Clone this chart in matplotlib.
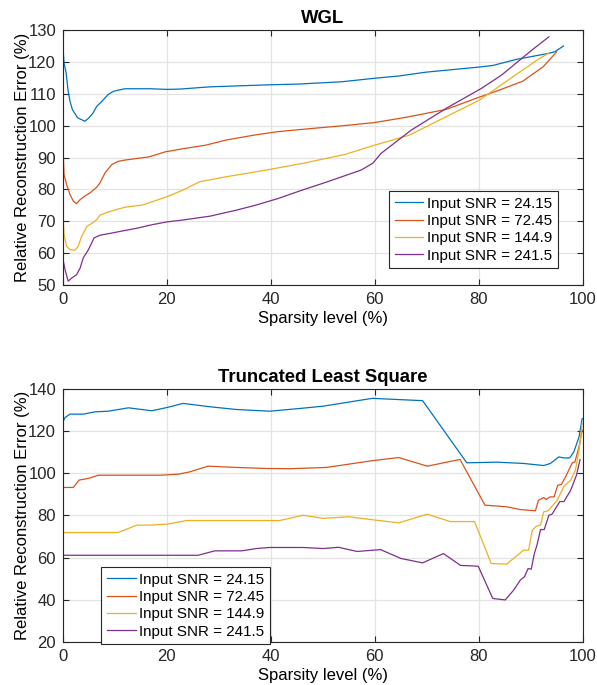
import numpy as np
import matplotlib.pyplot as plt

plt.rcParams['font.family'] = ['Liberation Sans', 'DejaVu Sans']

# -----------------------------
# Data
# -----------------------------
snr_labels = ["Input SNR = 24.15", "Input SNR = 72.45",
              "Input SNR = 144.9", "Input SNR = 241.5"]
colors = ["#0072BD", "#D95319", "#EDB120", "#7E2F8E"]

# WGL panel
wgl_x1 = [0, 0.2, 0.6, 1.0, 1.35, 1.8, 2.8, 4.2, 4.9, 5.8, 6.5, 7.4, 8.7, 9.7, 11.9,
          16.7, 20, 22.5, 28.3, 39, 45.7, 53.7, 60, 64.6, 69.8, 80, 82.7, 87.2, 93.4, 94.6, 96.3]
wgl_y1 = [124.5, 119.7, 116.6, 110.8, 107.7, 105.1, 102.5, 101.4, 102.3, 104.0, 106.1, 107.5, 109.8, 110.8, 111.6,
          111.6, 111.4, 111.5, 112.2, 112.8, 113.1, 113.8, 114.9, 115.6, 116.8, 118.4, 118.9, 120.8, 122.7, 123.2, 125.0]

wgl_x2 = [0, 0.2, 0.7, 1.35, 2.0, 2.6, 3.3, 4.2, 5.2, 6.5, 7.1, 8.1, 9.4, 10.6, 11.9,
          16.5, 19.7, 23.6, 27.5, 31.4, 36.6, 41.2, 45.7, 55.2, 60, 65.9, 73.7, 79.5, 84, 88.5, 92.4, 95]
wgl_y2 = [93.0, 84.7, 81.5, 78.4, 76.3, 75.5, 76.8, 77.9, 78.9, 80.7, 82.0, 85.2, 87.8, 88.8, 89.2,
          90.2, 91.8, 92.9, 93.9, 95.5, 97.0, 98.1, 98.8, 100.2, 101.0, 102.6, 105.1, 108.6, 111.2, 114.0, 118.5, 123.2]

wgl_x3 = [0, 0.2, 0.7, 1.35, 2.3, 2.9, 3.6, 4.6, 5.5, 6.5, 7.1, 8.7, 11.9,
          15.3, 20, 23.1, 26.3, 31.5, 39.2, 46.2, 54.3, 60, 66.6, 73.7, 80.1, 86.6, 91.7, 93.4]
wgl_y3 = [72.1, 65.8, 62.1, 61.1, 60.9, 62.1, 65.3, 68.4, 69.3, 70.5, 71.9, 72.9, 74.4,
          75.1, 77.7, 79.8, 82.4, 84.0, 86.1, 88.2, 91.0, 93.9, 97.0, 102.8, 108.0, 115.4, 121.1, 122.7]

wgl_x4 = [0, 0.4, 1.0, 1.7, 2.6, 3.3, 3.9, 4.9, 6.0, 7.1, 9.4, 11.9,
          14.2, 17.1, 20, 23.1, 28.3, 33.4, 37.2, 41.5, 45.7, 50.9, 57.4, 59.6, 61.2, 67, 74, 80.5, 84.4, 90.2, 93.5]
wgl_y4 = [58.0, 54.8, 51.2, 52.2, 53.2, 55.3, 58.5, 61.1, 64.8, 65.6, 66.3, 67.1,
          67.8, 68.9, 69.8, 70.4, 71.6, 73.5, 75.1, 77.2, 79.6, 82.4, 86.1, 88.2, 91.3, 98.6, 105.7, 111.7, 115.9, 123.7, 127.9]

# Truncated Least Square panel
tls_x1 = [0, 0.4, 1.35, 3.9, 6.2, 8.7, 12.6, 17.1, 20.1, 23.1, 28.3, 33.4, 39.8, 45.6, 50.1,
          59.5, 69.2, 77.7, 83.5, 88.6, 92.5, 93.8, 95.4, 96.4, 97.5, 98.3, 99.3, 99.9]
tls_y1 = [124.5, 126.5, 128.1, 128.1, 129.2, 129.5, 131.1, 129.7, 131.3, 133.2, 131.6, 130.3, 129.5, 130.8, 131.9,
          135.6, 134.5, 105.0, 105.3, 104.7, 103.7, 104.7, 107.8, 107.3, 107.3, 110.2, 117.3, 126.0]

tls_x2 = [0, 2.0, 3.1, 4.9, 6.8, 13.5, 18.7, 22.2, 24.4, 27.9, 33.4, 39.2, 43.7, 50.7,
          59.5, 64.6, 70.1, 76.4, 81.2, 85.4, 88.0, 90.9, 91.5, 92.5, 93.0, 93.7, 94.5,
          95.2, 95.9, 96.7, 98.0, 98.5, 99.3, 99.9]
tls_y2 = [93.3, 93.3, 96.8, 97.6, 99.1, 99.1, 99.1, 99.6, 100.7, 103.4, 102.8, 102.3, 102.2, 102.8,
          106.0, 107.5, 103.4, 106.6, 84.9, 84.1, 82.8, 82.2, 87.2, 88.5, 87.6, 88.8, 88.8,
          94.4, 94.7, 98.3, 105.0, 105.4, 112.6, 120.5]

tls_x3 = [0, 10.6, 14.2, 16.7, 20.1, 23.8, 29.6, 41.7, 46.2, 50.1, 55.0, 60.1, 64.6, 70.1, 74.5, 79.2,
          82.4, 85.4, 88.6, 89.6, 90.3, 91.1, 91.9, 92.5, 93.3, 95.1, 96.4, 97.7, 98.6, 99.3, 99.9]
tls_y3 = [71.9, 71.9, 75.4, 75.4, 75.9, 77.6, 77.6, 77.6, 80.1, 78.6, 79.4, 77.8, 76.5, 80.6, 77.1, 77.1,
          57.2, 56.9, 63.5, 63.5, 73.0, 74.9, 75.5, 81.7, 82.2, 87.2, 93.9, 96.7, 101.5, 111.0, 123.6]

tls_x4 = [0, 26.0, 29.2, 34.4, 37.2, 39.8, 46.2, 50.1, 53.0, 56.6, 61.1, 65.0, 69.2, 73.2, 76.5, 79.9,
          82.7, 85.1, 86.7, 88.0, 88.8, 89.5, 90.1, 90.7, 91.2, 91.9, 92.6, 93.5, 94.1, 95.6, 96.4, 97.7, 98.8, 99.5]
tls_y4 = [61.1, 61.1, 63.2, 63.2, 64.3, 64.8, 64.8, 64.3, 64.9, 62.9, 63.8, 59.6, 57.5, 61.9, 56.3, 55.9,
          40.6, 39.9, 44.5, 49.3, 50.9, 54.8, 54.5, 61.9, 65.9, 73.3, 73.3, 80.1, 80.6, 86.6, 86.6, 92.0, 99.1, 106.5]

wgl_series = [(wgl_x1, wgl_y1), (wgl_x2, wgl_y2), (wgl_x3, wgl_y3), (wgl_x4, wgl_y4)]
tls_series = [(tls_x1, tls_y1), (tls_x2, tls_y2), (tls_x3, tls_y3), (tls_x4, tls_y4)]


def style_axes(ax):
    ax.grid(True, color='#e3e3e3', linewidth=0.9)
    ax.set_axisbelow(True)
    ax.tick_params(direction='in', top=True, right=True, labelsize=12,
                   length=4, width=0.8, colors='#262626', pad=5)
    for sp in ax.spines.values():
        sp.set_color('#262626')
        sp.set_linewidth(0.8)


def add_legend(ax, loc, anchor):
    leg = ax.legend(loc=loc, bbox_to_anchor=anchor, fontsize=10.9,
                    frameon=True, fancybox=False, edgecolor='#262626', framealpha=1,
                    handlelength=1.9, handletextpad=0.25, borderpad=0.35,
                    labelspacing=0.22, borderaxespad=0)
    leg.get_frame().set_linewidth(0.8)
    return leg


fig = plt.figure(figsize=(5.97, 6.85), dpi=100)

# -----------------------------
# Top panel: WGL
# -----------------------------
ax1 = fig.add_axes([0.1055, 0.584, 0.8705, 0.372])
for (x, y), c, lab in zip(wgl_series, colors, snr_labels):
    ax1.plot(x, y, color=c, linewidth=0.9, label=lab)
ax1.set_xlim(0, 100)
ax1.set_ylim(50, 130)
ax1.set_xticks(np.arange(0, 101, 20))
ax1.set_yticks(np.arange(50, 131, 10))
style_axes(ax1)
ax1.set_title("WGL", fontsize=13.3, fontweight='bold', pad=5)
ax1.set_xlabel("Sparsity level (%)", fontsize=12, labelpad=3)
ax1.set_ylabel("Relative Reconstruction Error (%)", fontsize=12, labelpad=-1)
add_legend(ax1, 'lower right', (0.952, 0.067))

# -----------------------------
# Bottom panel: Truncated Least Square
# -----------------------------
ax2 = fig.add_axes([0.1055, 0.063, 0.8705, 0.369])
for (x, y), c, lab in zip(tls_series, colors, snr_labels):
    ax2.plot(x, y, color=c, linewidth=0.9, label=lab)
ax2.set_xlim(0, 100)
ax2.set_ylim(20, 140)
ax2.set_xticks(np.arange(0, 101, 20))
ax2.set_yticks(np.arange(20, 141, 20))
style_axes(ax2)
ax2.set_title("Truncated Least Square", fontsize=13.3, fontweight='bold', pad=5)
ax2.set_xlabel("Sparsity level (%)", fontsize=12, labelpad=3)
ax2.set_ylabel("Relative Reconstruction Error (%)", fontsize=12, labelpad=-1)
add_legend(ax2, 'lower left', (0.074, -0.008))

fig.savefig("out.png", dpi=100)
